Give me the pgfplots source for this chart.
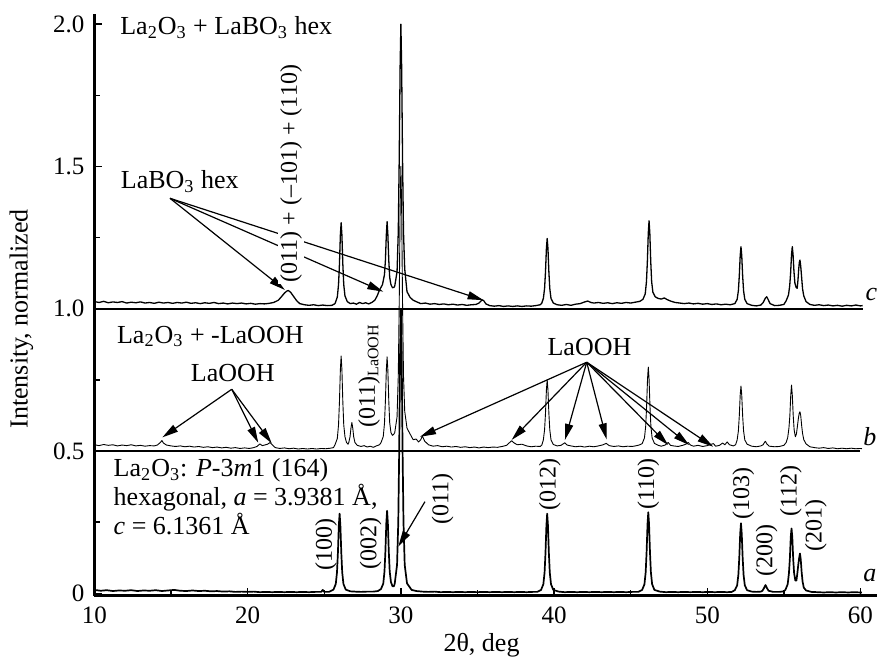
\documentclass[border=0pt]{standalone}
\usepackage{pgfplots}
\pgfplotsset{compat=1.18}
\usepackage{fontspec}
\setmainfont{Liberation Serif}
\usetikzlibrary{arrows.meta}
\newcommand\ann{\fontsize{13}{14.5}\selectfont}
\newcommand\rl{\fontsize{12}{14}\selectfont}
\newcommand\sub[1]{\textsubscript{#1}}
\begin{document}
\begin{tikzpicture}
\begin{axis}[
  name=ax, scale only axis, width=391.25pt, height=290.7pt,
  xmin=10, xmax=61.08, ymin=-0.008, ymax=2.035,
  axis x line*=bottom, axis y line*=left,
  axis line style={line width=1.1pt, -},
  tick align=inside,
  major tick length=4pt, minor tick length=3pt,
  tick style={black, line width=0.7pt},
  xtick={10,20,30,40,50,60}, xticklabels={10,20,30,40,50,60},
  minor xtick={15,25,35,45,55},
  ytick={0,0.5,1,1.5,2}, yticklabels={0,0.5,1.0,1.5,2.0},
  minor ytick={0.25,0.75,1.25,1.75},
  /pgf/number format/assume math mode=true,
  tick label style={font=\fontsize{12.5}{14}\selectfont},
  xticklabel style={yshift=-2pt},
  yticklabel style={xshift=-1.5pt},
  every axis x label/.style={at={(axis description cs:0.4946,-0.097)},anchor=base},
  every axis y label/.style={at={(axis description cs:-0.0854,0.476)},rotate=90,anchor=base},
  label style={font=\ann},
  xlabel={2θ, deg}, ylabel={Intensity, normalized},
  clip=false,
]
% trace a
\addplot[black, line width=0.85pt, line join=round, mark=none] table {
10.0 0.012
10.4 0.009
10.8 0.011
11.2 0.008
11.6 0.010
12.0 0.009
12.4 0.011
12.8 0.008
13.2 0.010
13.6 0.009
14.0 0.011
14.4 0.008
14.8 0.010
15.2 0.012
15.6 0.009
16.0 0.008
16.4 0.010
16.8 0.008
17.2 0.009
17.6 0.007
18.0 0.008
18.4 0.006
18.8 0.007
19.2 0.005
19.6 0.006
20.0 0.005
20.4 0.006
20.8 0.004
21.2 0.005
21.6 0.004
22.0 0.005
22.4 0.004
22.8 0.005
23.2 0.004
23.6 0.005
24.0 0.004
24.4 0.005
24.8 0.005
24.9 0.012
25.0 0.005
25.3 0.005
25.6 0.013
25.75 0.033
25.83 0.074
25.89 0.143
25.95 0.239
26.0 0.280
26.05 0.239
26.11 0.143
26.17 0.074
26.25 0.033
26.4 0.013
26.7 0.007
27.0 0.006
27.4 0.005
27.8 0.006
28.2 0.006
28.5 0.008
28.7 0.015
28.85 0.034
28.93 0.077
28.99 0.148
29.05 0.247
29.1 0.290
29.15 0.247
29.21 0.148
29.27 0.077
29.35 0.040
29.45 0.025
29.55 0.025
29.6 0.035
29.75 0.10
29.83 0.25
29.89 0.50
29.95 0.85
30.0 1.00
30.05 0.85
30.11 0.50
30.17 0.25
30.25 0.10
30.4 0.035
30.7 0.012
31.0 0.008
31.4 0.006
31.8 0.005
32.2 0.006
32.6 0.004
33.0 0.005
33.4 0.004
33.8 0.005
34.2 0.004
34.6 0.005
35.0 0.004
35.4 0.005
35.8 0.004
36.2 0.005
36.6 0.004
37.0 0.005
37.4 0.004
37.8 0.005
38.2 0.004
38.6 0.005
38.9 0.005
39.15 0.012
39.3 0.032
39.38 0.073
39.44 0.142
39.5 0.239
39.55 0.280
39.6 0.239
39.66 0.142
39.72 0.073
39.8 0.032
39.95 0.012
40.3 0.006
40.7 0.004
41.1 0.005
41.5 0.004
41.9 0.005
42.3 0.004
42.7 0.005
43.1 0.004
43.5 0.005
43.9 0.004
44.3 0.005
44.7 0.004
45.1 0.005
45.5 0.005
45.75 0.012
45.9 0.032
45.98 0.074
46.04 0.145
46.1 0.243
46.15 0.285
46.2 0.243
46.26 0.145
46.32 0.074
46.4 0.032
46.55 0.012
46.9 0.006
47.3 0.004
47.7 0.005
48.1 0.004
48.5 0.005
48.9 0.004
49.3 0.005
49.7 0.004
50.1 0.005
50.5 0.004
50.9 0.005
51.3 0.004
51.6 0.005
51.8 0.011
51.95 0.028
52.03 0.065
52.09 0.125
52.15 0.210
52.2 0.246
52.25 0.210
52.31 0.125
52.37 0.065
52.45 0.028
52.6 0.011
52.9 0.006
53.2 0.005
53.5 0.006
53.6 0.009
53.7 0.018
53.8 0.029
53.9 0.018
54.0 0.009
54.3 0.005
54.7 0.005
55.0 0.007
55.1 0.012
55.25 0.032
55.33 0.070
55.39 0.120
55.45 0.198
55.5 0.228
55.55 0.198
55.61 0.120
55.67 0.070
55.75 0.045
55.82 0.045
55.88 0.070
55.94 0.100
56.0 0.125
56.05 0.140
56.1 0.120
56.16 0.075
56.22 0.042
56.3 0.020
56.45 0.010
56.8 0.005
57.2 0.004
57.6 0.003
58.0 0.004
58.4 0.003
58.8 0.004
59.2 0.003
59.6 0.004
60.0 0.003
60.1 0.003
};
% trace b
\addplot[black, line width=0.45pt, line join=round, mark=none] table {
10.0 0.522
10.3 0.519
10.6 0.523
10.9 0.520
11.2 0.522
11.5 0.518
11.8 0.521
12.1 0.519
12.4 0.522
12.7 0.518
13.0 0.520
13.3 0.517
13.6 0.519
13.9 0.518
14.1 0.521
14.3 0.530
14.4 0.537
14.5 0.528
14.7 0.521
15.0 0.518
15.3 0.516
15.6 0.518
15.9 0.515
16.2 0.517
16.5 0.514
16.8 0.516
17.1 0.513
17.4 0.515
17.7 0.512
18.0 0.514
18.3 0.511
18.6 0.513
18.9 0.510
19.2 0.512
19.5 0.509
19.8 0.511
20.1 0.509
20.4 0.512
20.6 0.516
20.8 0.525
20.95 0.519
21.1 0.521
21.3 0.524
21.46 0.530
21.6 0.522
21.8 0.512
22.1 0.509
22.4 0.511
22.7 0.508
23.0 0.510
23.3 0.507
23.6 0.509
23.9 0.507
24.2 0.509
24.5 0.507
24.8 0.509
25.1 0.508
25.4 0.510
25.6 0.512
25.7 0.522
25.85 0.544
25.93 0.592
25.99 0.673
26.05 0.786
26.1 0.834
26.15 0.786
26.21 0.673
26.27 0.592
26.35 0.550
26.45 0.530
26.55 0.524
26.6 0.530
26.68 0.550
26.74 0.580
26.8 0.600
26.86 0.580
26.92 0.550
27.0 0.530
27.15 0.520
27.4 0.516
27.6 0.519
27.8 0.514
28.0 0.517
28.2 0.513
28.4 0.518
28.6 0.522
28.7 0.529
28.85 0.551
28.93 0.598
28.99 0.676
29.05 0.784
29.1 0.831
29.15 0.784
29.21 0.676
29.27 0.600
29.35 0.565
29.45 0.555
29.55 0.560
29.6 0.565
29.75 0.620
29.83 0.765
29.89 1.010
29.95 1.353
30.0 1.500
30.05 1.353
30.11 1.010
30.17 0.765
30.25 0.640
30.4 0.580
30.6 0.560
30.8 0.540
31.0 0.542
31.15 0.532
31.3 0.540
31.4 0.553
31.55 0.535
31.8 0.522
32.1 0.517
32.4 0.519
32.7 0.515
33.0 0.517
33.3 0.514
33.6 0.516
33.9 0.513
34.2 0.515
34.5 0.512
34.8 0.514
35.1 0.511
35.4 0.514
35.7 0.512
36.0 0.514
36.3 0.513
36.6 0.516
36.9 0.520
37.1 0.530
37.23 0.536
37.4 0.528
37.6 0.522
37.9 0.524
38.2 0.518
38.5 0.515
38.8 0.517
39.1 0.516
39.2 0.521
39.3 0.539
39.38 0.575
39.44 0.633
39.5 0.715
39.55 0.750
39.6 0.715
39.66 0.633
39.72 0.575
39.8 0.539
39.95 0.523
40.2 0.518
40.45 0.520
40.7 0.529
40.85 0.521
41.1 0.518
41.4 0.515
41.7 0.517
42.0 0.514
42.3 0.517
42.6 0.515
42.9 0.518
43.2 0.522
43.4 0.527
43.6 0.519
43.9 0.516
44.2 0.518
44.5 0.515
44.8 0.517
45.1 0.516
45.4 0.519
45.6 0.522
45.75 0.526
45.9 0.546
45.98 0.587
46.04 0.657
46.1 0.753
46.15 0.795
46.2 0.753
46.26 0.657
46.32 0.587
46.4 0.546
46.55 0.527
46.8 0.520
47.0 0.517
47.25 0.521
47.45 0.530
47.6 0.520
47.8 0.518
48.1 0.516
48.4 0.520
48.6 0.524
48.76 0.530
48.9 0.521
49.1 0.517
49.4 0.520
49.7 0.516
50.0 0.519
50.2 0.523
50.4 0.526
50.55 0.517
50.8 0.520
51.0 0.528
51.15 0.522
51.3 0.532
51.45 0.522
51.7 0.518
51.85 0.522
51.95 0.539
52.03 0.570
52.09 0.623
52.15 0.697
52.2 0.728
52.25 0.697
52.31 0.623
52.37 0.571
52.45 0.539
52.6 0.524
52.9 0.517
53.2 0.515
53.5 0.518
53.65 0.522
53.75 0.532
53.8 0.534
53.9 0.524
54.05 0.517
54.4 0.515
54.7 0.516
55.0 0.520
55.15 0.530
55.25 0.547
55.33 0.580
55.39 0.623
55.45 0.697
55.5 0.732
55.55 0.697
55.61 0.625
55.67 0.575
55.75 0.550
55.82 0.560
55.88 0.585
55.94 0.612
56.0 0.632
56.05 0.638
56.1 0.625
56.16 0.590
56.22 0.562
56.3 0.540
56.45 0.525
56.7 0.515
57.0 0.512
57.3 0.510
57.6 0.512
57.9 0.509
58.2 0.511
58.5 0.508
58.8 0.510
59.1 0.508
59.4 0.510
59.7 0.508
60.0 0.509
60.1 0.508
};
% trace c
\addplot[black, line width=0.65pt, line join=round, mark=none] table {
10.0 1.025
10.3 1.022
10.6 1.026
10.9 1.021
11.2 1.024
11.5 1.022
11.8 1.025
12.1 1.020
12.4 1.023
12.7 1.021
13.0 1.024
13.3 1.020
13.6 1.022
13.9 1.019
14.2 1.023
14.5 1.020
14.8 1.022
15.1 1.019
15.4 1.022
15.7 1.020
16.0 1.023
16.3 1.019
16.6 1.021
16.9 1.018
17.2 1.021
17.5 1.019
17.8 1.022
18.1 1.018
18.4 1.020
18.7 1.017
19.0 1.020
19.3 1.018
19.6 1.020
19.9 1.017
20.2 1.019
20.5 1.016
20.8 1.018
21.1 1.017
21.4 1.019
21.7 1.022
22.0 1.030
22.2 1.042
22.4 1.055
22.55 1.062
22.65 1.064
22.8 1.058
23.0 1.043
23.2 1.028
23.4 1.018
23.7 1.014
24.0 1.012
24.3 1.014
24.6 1.011
24.9 1.013
25.2 1.011
25.5 1.012
25.7 1.018
25.85 1.041
25.93 1.085
25.99 1.157
26.05 1.259
26.1 1.302
26.15 1.259
26.21 1.157
26.27 1.085
26.35 1.045
26.5 1.025
26.7 1.018
26.9 1.020
27.1 1.016
27.3 1.022
27.5 1.018
27.7 1.021
27.9 1.017
28.1 1.022
28.3 1.030
28.45 1.045
28.6 1.065
28.7 1.075
28.8 1.085
28.93 1.120
28.99 1.170
29.05 1.260
29.1 1.306
29.15 1.260
29.21 1.170
29.27 1.110
29.35 1.085
29.45 1.074
29.55 1.075
29.6 1.080
29.75 1.130
29.83 1.270
29.89 1.520
29.95 1.850
30.0 2.000
30.05 1.850
30.11 1.520
30.17 1.270
30.25 1.140
30.4 1.060
30.6 1.040
30.8 1.030
31.0 1.025
31.3 1.018
31.6 1.020
31.9 1.016
32.2 1.018
32.5 1.015
32.8 1.017
33.1 1.014
33.4 1.016
33.7 1.013
34.0 1.015
34.3 1.012
34.6 1.014
34.9 1.015
35.1 1.020
35.3 1.031
35.4 1.029
35.55 1.017
35.8 1.011
36.1 1.009
36.4 1.011
36.7 1.008
37.0 1.010
37.3 1.008
37.6 1.010
37.9 1.008
38.2 1.010
38.5 1.009
38.8 1.011
39.1 1.014
39.2 1.020
39.3 1.036
39.38 1.071
39.44 1.130
39.5 1.212
39.55 1.247
39.6 1.212
39.66 1.130
39.72 1.071
39.8 1.036
39.95 1.020
40.2 1.014
40.5 1.012
40.8 1.015
41.1 1.012
41.4 1.016
41.7 1.018
42.0 1.024
42.2 1.027
42.4 1.022
42.6 1.020
42.9 1.022
43.2 1.019
43.5 1.021
43.8 1.018
44.1 1.021
44.4 1.019
44.7 1.022
45.0 1.020
45.3 1.023
45.6 1.026
45.8 1.033
45.95 1.052
46.03 1.095
46.09 1.166
46.15 1.266
46.2 1.309
46.25 1.266
46.31 1.166
46.37 1.095
46.45 1.058
46.6 1.042
46.8 1.036
47.0 1.034
47.2 1.038
47.35 1.033
47.6 1.027
47.9 1.022
48.2 1.020
48.5 1.018
48.8 1.020
49.1 1.017
49.4 1.019
49.7 1.016
50.0 1.018
50.3 1.015
50.6 1.017
50.9 1.014
51.2 1.016
51.5 1.014
51.8 1.018
51.95 1.033
52.03 1.063
52.09 1.115
52.15 1.187
52.2 1.218
52.25 1.187
52.31 1.115
52.37 1.063
52.45 1.033
52.6 1.018
52.9 1.012
53.2 1.010
53.5 1.013
53.65 1.022
53.8 1.038
53.88 1.042
53.95 1.035
54.1 1.018
54.4 1.011
54.7 1.012
55.0 1.015
55.15 1.028
55.3 1.048
55.38 1.080
55.44 1.125
55.5 1.190
55.55 1.218
55.6 1.190
55.66 1.130
55.72 1.090
55.8 1.075
55.87 1.072
55.92 1.100
55.97 1.140
56.01 1.163
56.05 1.171
56.1 1.150
56.16 1.110
56.22 1.070
56.3 1.045
56.45 1.025
56.7 1.015
57.0 1.012
57.3 1.014
57.6 1.011
57.9 1.013
58.2 1.010
58.5 1.012
58.8 1.009
59.1 1.012
59.4 1.010
59.7 1.013
60.0 1.010
60.14 1.011
};
% baselines
\addplot[black, line width=0.9pt, mark=none] coordinates {(10,0.5) (60.0,0.5)};
\addplot[black, line width=0.9pt, mark=none] coordinates {(10,1.0) (60.14,1.0)};
% arrows
\begin{scope}[line width=0.6pt, -{Triangle[length=8pt,width=4pt]}]
\draw (axis cs:14.93,1.388) -- (axis cs:22.43,1.066);
\draw (axis cs:14.93,1.388) -- (axis cs:28.85,1.060);
\draw (axis cs:14.93,1.388) -- (axis cs:35.40,1.030);
\draw (axis cs:18.96,0.717) -- (axis cs:14.43,0.548);
\draw (axis cs:18.96,0.717) -- (axis cs:20.69,0.529);
\draw (axis cs:18.96,0.717) -- (axis cs:21.57,0.527);
\draw (axis cs:42.13,0.812) -- (axis cs:31.25,0.550);
\draw (axis cs:42.13,0.812) -- (axis cs:37.23,0.539);
\draw (axis cs:42.13,0.812) -- (axis cs:40.71,0.539);
\draw (axis cs:42.13,0.812) -- (axis cs:43.43,0.541);
\draw (axis cs:42.13,0.812) -- (axis cs:47.45,0.521);
\draw (axis cs:42.13,0.812) -- (axis cs:48.82,0.521);
\draw (axis cs:42.13,0.812) -- (axis cs:50.39,0.515);
\draw (axis cs:31.57,0.322) -- (axis cs:29.83,0.164);
\end{scope}
% texts
\node[anchor=base west, inner sep=0pt, font=\ann] at (axis cs:11.66,1.962) {La\sub{2}O\sub{3} + LaBO\sub{3} hex};
\node[anchor=base west, inner sep=0pt, font=\ann] at (axis cs:11.70,1.423) {LaBO\sub{3} hex};
\node[rotate=90, fill=white, inner sep=1pt, font=\rl] at (axis cs:22.83,1.475) {(011) + (–101) + (110)};
\node[anchor=base west, inner sep=0pt, font=\ann] at (axis cs:11.45,0.879) {La\sub{2}O\sub{3} + -LaOOH};
\node[anchor=base, inner sep=0pt, font=\ann] at (axis cs:19.03,0.744) {LaOOH};
\node[anchor=base, inner sep=0pt, font=\ann] at (axis cs:42.31,0.837) {LaOOH};
\node[rotate=90, inner sep=0pt, font=\rl] at (axis cs:27.92,0.764) {(011)\sub{LaOOH}};
\node[anchor=base west, inner sep=0pt, font=\ann] at (axis cs:11.23,0.410) {La\sub{2}O\sub{3}: \textit{P}-3\textit{m}1 (164)};
\node[anchor=base west, inner sep=0pt, font=\ann] at (axis cs:11.23,0.310) {hexagonal, \textit{a} = 3.9381 Å,};
\node[anchor=base west, inner sep=0pt, font=\ann] at (axis cs:11.23,0.205) {\textit{c} = 6.1361 Å};
\node[rotate=90, inner sep=0pt, font=\rl] at (axis cs:25.12,0.1725) {(100)};
\node[rotate=90, inner sep=0pt, font=\rl] at (axis cs:28.02,0.176) {(002)};
\node[rotate=90, inner sep=0pt, font=\rl] at (axis cs:32.72,0.331) {(011)};
\node[rotate=90, inner sep=0pt, font=\rl] at (axis cs:39.73,0.383) {(012)};
\node[rotate=90, inner sep=0pt, font=\rl] at (axis cs:46.15,0.383) {(110)};
\node[rotate=90, inner sep=0pt, font=\rl] at (axis cs:52.35,0.351) {(103)};
\node[rotate=90, inner sep=0pt, font=\rl] at (axis cs:53.88,0.149) {(200)};
\node[rotate=90, inner sep=0pt, font=\rl] at (axis cs:55.45,0.3595) {(112)};
\node[rotate=90, inner sep=0pt, font=\rl] at (axis cs:57.08,0.239) {(201)};
\node[anchor=base, inner sep=0pt, font=\ann\itshape] at (axis cs:60.62,0.041) {a};
\node[anchor=base, inner sep=0pt, font=\ann\itshape] at (axis cs:60.62,0.521) {b};
\node[anchor=base, inner sep=0pt, font=\ann\itshape] at (axis cs:60.72,1.030) {c};
\end{axis}
\pgfresetboundingbox
\path ([shift={(-47.25pt,-34.2pt)}]ax.south west) rectangle ([shift={(392.25pt,297.8pt)}]ax.south west);
\end{tikzpicture}
\end{document}
